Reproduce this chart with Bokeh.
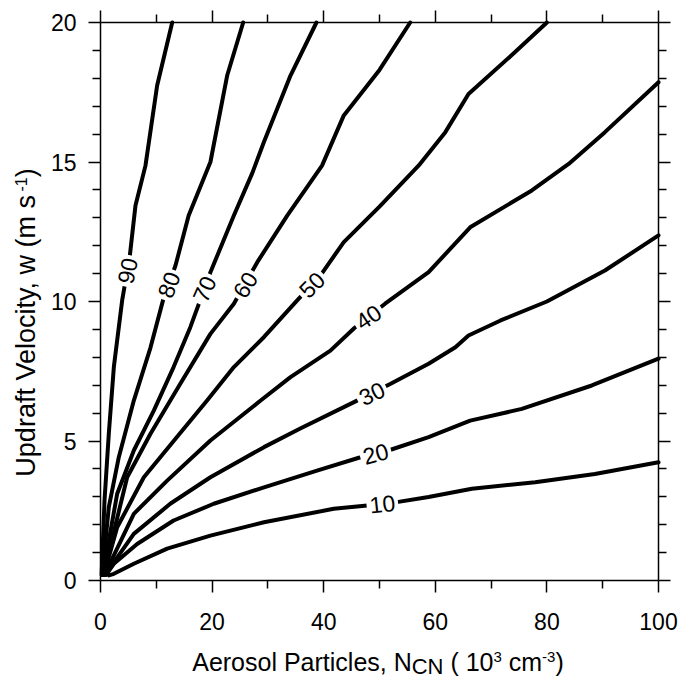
import math
from bokeh.plotting import figure
from bokeh.models import LinearAxis, Label, FixedTicker, Range1d, ColumnDataSource
from bokeh.core.properties import value
from bokeh.embed import file_html
from bokeh.resources import INLINE

# ---------------- data ----------------
x_ticks = [0, 20, 40, 60, 80, 100]
x_minor = [10, 30, 50, 70, 90]
y_ticks = [0, 5, 10, 15, 20]
y_minor = [1, 2, 3, 4, 6, 7, 8, 9, 11, 12, 13, 14, 16, 17, 18, 19]

levels = ["10", "20", "30", "40", "50", "60", "70", "80", "90"]

x90 = [0.2, 0.72, 1.49, 2.39, 3.88, 5.26, 6.27, 8.06, 10.15, 12.85]
y90 = [0.2, 2.87, 5.26, 7.65, 10.04, 11.65, 13.44, 14.87, 17.74, 20.0]

x80 = [0.3, 1.49, 3.28, 5.97, 8.96, 11.2, 13.44, 15.8, 19.7, 22.7, 25.57]
y80 = [0.2, 2.63, 4.42, 6.45, 8.35, 10.04, 11.29, 13.08, 15.0, 18.1, 20.0]

x70 = [0.4, 2.99, 5.97, 9.55, 13.1, 16.1, 19.7, 23.9, 27.2, 29.27, 34.05, 38.7]
y70 = [0.2, 3.11, 4.66, 6.09, 7.65, 9.08, 11.05, 13.08, 14.6, 15.71, 18.1, 20.0]

x60 = [0.5, 4.78, 8.96, 14.3, 19.7, 23.9, 28.1, 33.46, 39.7, 43.6, 50.0, 55.5]
y60 = [0.2, 3.7, 5.26, 7.05, 8.84, 9.92, 11.41, 13.08, 14.87, 16.67, 18.3, 20.0]

x50 = [0.6, 2.99, 7.77, 13.7, 19.1, 23.9, 29.27, 35.25, 39.4, 43.6, 50.0, 57.0, 61.8, 65.95, 74.3, 80.0]
y50 = [0.2, 1.91, 3.7, 5.14, 6.45, 7.65, 8.72, 10.04, 10.93, 12.13, 13.4, 14.87, 16.07, 17.44, 18.94, 20.0]

x40 = [0.7, 5.97, 11.95, 19.7, 28.7, 34.05, 41.2, 45.5, 51.0, 58.8, 66.25, 77.3, 83.9, 90.4, 100.0]
y40 = [0.2, 2.39, 3.58, 5.02, 6.45, 7.29, 8.24, 9.05, 9.92, 11.05, 12.66, 13.98, 14.93, 16.07, 17.86]

x30 = [0.8, 5.97, 12.5, 19.7, 29.3, 35.8, 45.7, 52.0, 58.8, 63.6, 65.95, 71.7, 80.0, 90.4, 100.0]
y30 = [0.2, 1.67, 2.75, 3.7, 4.78, 5.45, 6.42, 7.05, 7.77, 8.36, 8.78, 9.32, 10.0, 11.11, 12.37]

x20 = [1.0, 2.39, 6.57, 13.1, 20.3, 29.3, 38.8, 46.3, 51.6, 58.8, 66.25, 75.5, 88.05, 100.0]
y20 = [0.2, 0.6, 1.31, 2.15, 2.75, 3.34, 3.94, 4.4, 4.66, 5.14, 5.73, 6.15, 6.99, 7.95]

x10 = [1.5, 2.39, 5.97, 11.95, 19.7, 29.3, 41.8, 47.8, 53.1, 58.8, 66.55, 77.9, 88.6, 100.0]
y10 = [0.18, 0.24, 0.6, 1.14, 1.61, 2.09, 2.57, 2.69, 2.81, 2.99, 3.29, 3.52, 3.82, 4.24]

lines_x = [x10, x20, x30, x40, x50, x60, x70, x80, x90]
lines_y = [y10, y20, y30, y40, y50, y60, y70, y80, y90]

# contour label positions (on each line) and screen angles in degrees
label_x = [50.5, 49.3, 48.6, 48.0, 37.86, 25.9, 18.6, 12.2, 4.79]
label_y = [2.75, 4.55, 6.71, 9.45, 10.6, 10.6, 10.45, 10.6, 11.1]
label_angle_deg = [6, 15, 26, 34, 45, 58, 66, 69, 78]

x_title_parts = ["Aerosol Particles, N", "CN", "\u00a0( 10", "3", "\u00a0cm", "-3", ")"]
y_title_parts = ["Updraft Velocity, w (m s", "-1", ")"]

# ---------------- layout constants (pixels) ----------------
FONT = "Liberation Sans"
CW, CH = 680, 679            # canvas size
FL, FT = 100, 22             # plot box left / top edge
PX_X = 558 / 100.0           # px per x unit
PX_Y = 558 / 20.0            # px per y unit
X0 = -FL / PX_X
X1 = X0 + CW / PX_X
Y1 = (FT + 558) / PX_Y
Y0 = Y1 - CH / PX_Y

p = figure(width=CW, height=CH,
           x_range=Range1d(X0, X1), y_range=Range1d(Y0, Y1),
           output_backend="svg", toolbar_location=None, min_border=0)
p.xgrid.visible = False
p.ygrid.visible = False
p.outline_line_color = None
p.background_fill_color = "white"
p.border_fill_color = "white"

xb = p.below[0]
yl = p.left[0]
xb.fixed_location = 0
xb.bounds = (0, 100)
yl.fixed_location = 0
yl.bounds = (0, 20)
right_ax = LinearAxis(fixed_location=100, bounds=(0, 20))
top_ax = LinearAxis(fixed_location=20, bounds=(0, 100))
p.add_layout(right_ax, "right")
p.add_layout(top_ax, "above")

for ax in [xb, top_ax]:
    ax.ticker = FixedTicker(ticks=x_ticks, minor_ticks=x_minor)
for ax in [yl, right_ax]:
    ax.ticker = FixedTicker(ticks=y_ticks, minor_ticks=y_minor)

for ax in [xb, yl, right_ax, top_ax]:
    ax.axis_line_color = "black"
    ax.axis_line_width = 1.5
    ax.major_tick_line_color = "black"
    ax.minor_tick_line_color = "black"
    ax.major_tick_line_width = 1.5
    ax.minor_tick_line_width = 1.5
    ax.major_tick_out = 12
    ax.major_tick_in = 0
    ax.minor_tick_out = 8
    ax.minor_tick_in = 0
    ax.major_label_text_font = FONT
    ax.major_label_text_font_size = "23px"
    ax.major_label_text_color = "black"

xb.major_label_standoff = 20
yl.major_label_standoff = 12
top_ax.major_label_overrides = {t: "" for t in x_ticks}
right_ax.major_label_overrides = {t: "" for t in y_ticks}

for xs, ys in zip(lines_x, lines_y):
    p.line(xs, ys, line_color="black", line_width=4,
           line_join="round", line_cap="round")

src = ColumnDataSource(dict(x=label_x, y=label_y, text=levels,
                            angle=[math.radians(a) for a in label_angle_deg]))
p.text(x="x", y="y", text="text", angle="angle", source=src,
       text_font=value(FONT), text_font_size=value("23px"),
       text_color="black", text_align="center", text_baseline="middle",
       background_fill_color="white", padding=3)

# ---------------- rich axis titles ----------------
W = {'A': 667, 'e': 556, 'r': 333, 'o': 556, 's': 500, 'l': 222, ' ': 278,
     '\u00a0': 278, 'P': 667, 'a': 556, 't': 278, 'i': 222, 'c': 500,
     ',': 278, 'N': 722, 'C': 722, '(': 333, ')': 333, '1': 556, '0': 556,
     '3': 556, 'm': 833, '-': 333, 'U': 722, 'p': 556, 'd': 556, 'f': 278,
     'V': 667, 'y': 500, 'w': 722}


def tw(s, size):
    return sum(W.get(ch, 556) for ch in s) * size / 1000.0


BASE_FIX = 0.33  # empirical baseline correction (fraction of font size)

XB, XSUB, XSUP = 25, 22, 15
x_sizes = [XB, XSUB, XB, XSUP, XB, XSUP, XB]
x_shift = [0, -4, 0, 8, 0, 8, 0]
total = sum(tw(s, z) for s, z in zip(x_title_parts, x_sizes))
cur = -total / 2.0
x_center = (377.5 - FL) / PX_X
for s, z, sh in zip(x_title_parts, x_sizes, x_shift):
    base_px = 669.5 - sh - BASE_FIX * z        # page y of the anchor
    p.add_layout(Label(x=x_center, y=(580 - base_px) / PX_Y, x_offset=cur,
                       text=s, text_font=FONT, text_font_size=f"{z}px",
                       text_color="black", text_align="left",
                       text_baseline="alphabetic"))
    cur += tw(s, z)

YB, YSUP = 27, 16
y_sizes = [YB, YSUP, YB]
y_shift = [0, 8, 0]
total = sum(tw(s, z) for s, z in zip(y_title_parts, y_sizes))
y_center = (580 - 322) / PX_Y
cur = y_center - (total / 2.0) / PX_Y
for s, z, sh in zip(y_title_parts, y_sizes, y_shift):
    base_px = 34 - sh - BASE_FIX * z           # page x of the anchor
    p.add_layout(Label(x=(base_px - FL) / PX_X, y=cur, text=s,
                       angle=math.pi / 2,
                       text_font=FONT, text_font_size=f"{z}px",
                       text_color="black", text_align="left",
                       text_baseline="alphabetic"))
    cur += tw(s, z) / PX_Y

open("out.html", "w").write(file_html(p, INLINE))
